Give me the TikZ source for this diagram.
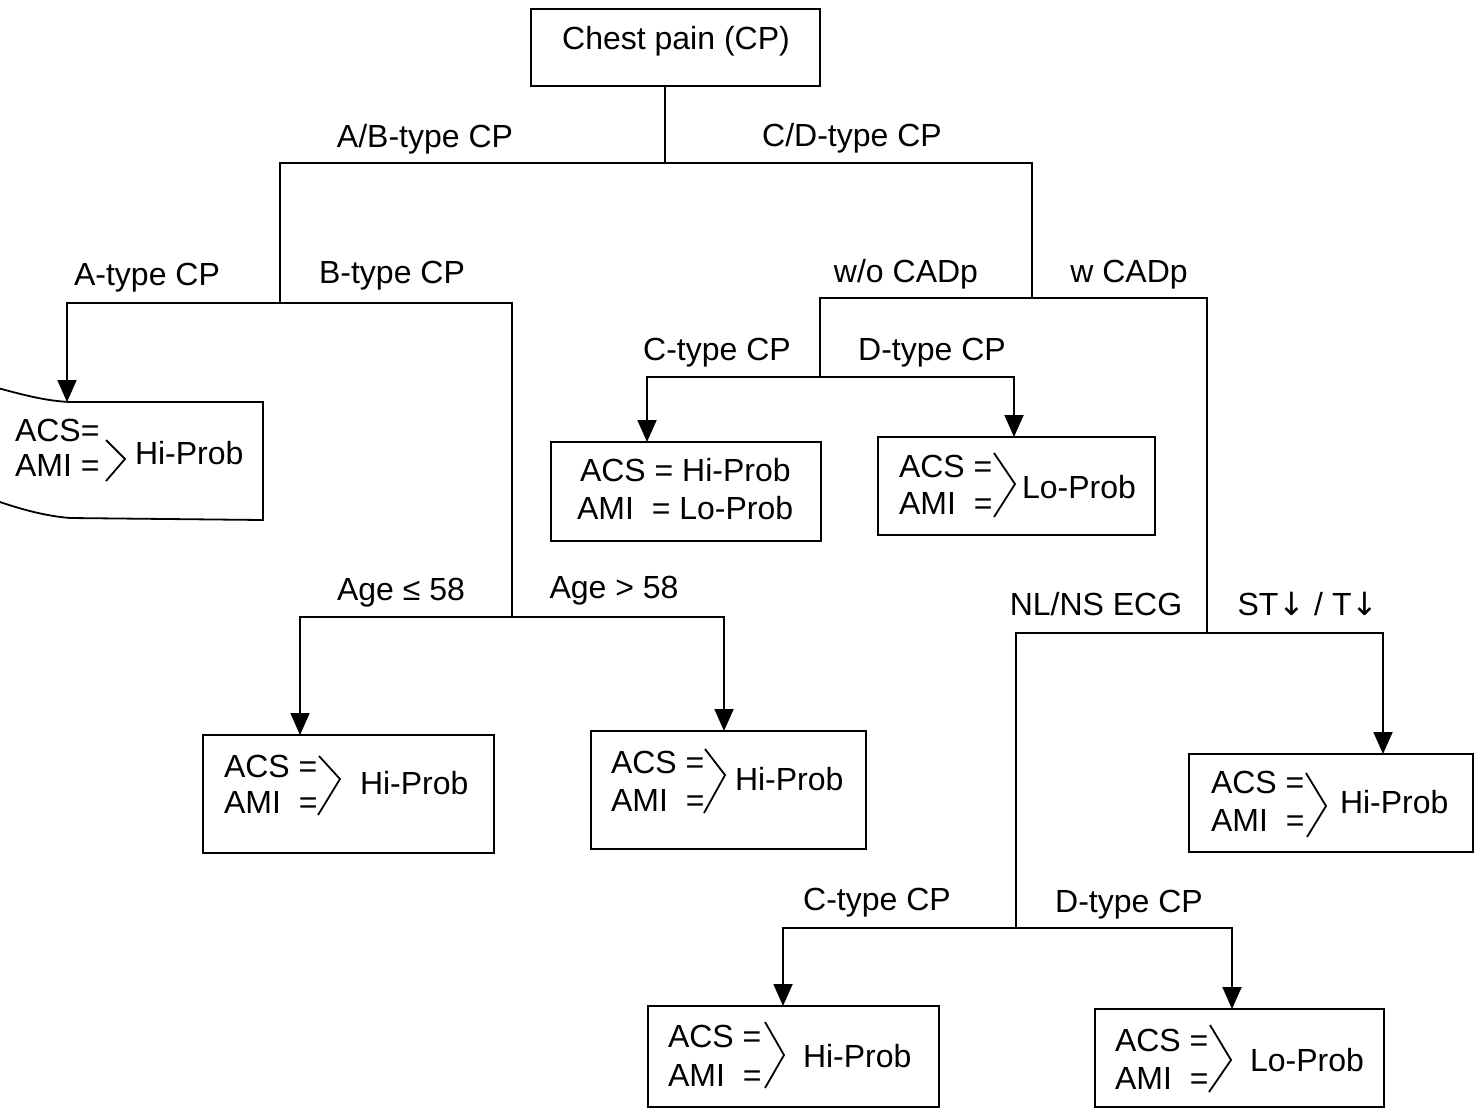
\documentclass[tikz,border=0pt]{standalone}
\usepackage{fontspec}
\setmainfont{Liberation Sans}
\newfontfamily\arrowfont{DejaVu Sans}
\usetikzlibrary{arrows.meta}
\newcommand{\dnarrow}{{\arrowfont ↓}}
\begin{document}
\begin{tikzpicture}[x=1pt,y=-1pt,
  every node/.style={font=\fontsize{32}{38}\selectfont, inner sep=0pt, outer sep=0pt},
  wire/.style={line width=1.8pt},
  arr/.style={wire, -{Triangle[length=22pt,width=19pt]}},
  box/.style={draw, line width=1.8pt, rectangle},
  lbl/.style={anchor=base},
  txt/.style={anchor=west},
  brk/.style={line width=1.8pt, line join=miter}]
\useasboundingbox (0,0) rectangle (1479,1114);

% ---------- boxes ----------
\node[box, minimum width=289pt, minimum height=77pt] (root) at (675.5,47.5) {};
\node (rootText) at (676,41) {Chest pain (CP)};

\node[minimum width=263pt, minimum height=118pt] (leafA) at (131.5,461) {};
\node[box, minimum width=270pt, minimum height=99pt] (leafCw) at (686,491.5) {};
\node[box, minimum width=277pt, minimum height=98pt] (leafDw) at (1016.5,486) {};
\node[box, minimum width=291pt, minimum height=118pt] (leafYoung) at (348.5,794) {};
\node[box, minimum width=275pt, minimum height=118pt] (leafOld) at (728.5,790) {};
\node[box, minimum width=284pt, minimum height=98pt] (leafST) at (1331,803) {};
\node[box, minimum width=291pt, minimum height=101pt] (leafC2) at (793.5,1056.5) {};
\node[box, minimum width=289pt, minimum height=98pt] (leafD2) at (1239.5,1058) {};

% curled outline of the left leaf
\draw[wire] (-6,387) .. controls (20,394) and (45,401) .. (70,402) -- (leafA.north east)
  -- (leafA.south east) -- (70,518) .. controls (45,516) and (20,509) .. (-6,500);

% ---------- branch junctions ----------
\coordinate (j0) at (665,163);
\coordinate (hL) at (280,303);
\coordinate (hR) at (1032,298);
\coordinate (xA) at (67,303);
\coordinate (hB) at (512,617);
\coordinate (xY) at (300,617);
\coordinate (xO) at (724,617);
\coordinate (kW) at (820,377);
\coordinate (xCw) at (647,377);
\coordinate (xDw) at (1014,377);
\coordinate (kC) at (1207,633);
\coordinate (nN) at (1016,928);
\coordinate (xST) at (1383,633);
\coordinate (xC2) at (783,928);
\coordinate (xD2) at (1232,928);

% ---------- connectors ----------
\draw[wire] (root.south -| j0) -- (j0);
\draw[wire] (hL) |- (j0) -| (hR);
\draw[arr] (hL) -- (xA) -- (xA |- leafA.north);
\draw[wire] (hL) -| (hB);
\draw[arr] (hB) -- (xY) -- (xY |- leafYoung.north);
\draw[arr] (hB) -- (xO) -- (xO |- leafOld.north);
\draw[wire] (hR) -- (hR -| kW) -- (kW);
\draw[wire] (hR) -| (kC);
\draw[arr] (kW) -- (xCw) -- (xCw |- leafCw.north);
\draw[arr] (kW) -- (xDw) -- (xDw |- leafDw.north);
\draw[wire] (kC) -- (kC -| nN) -- (nN);
\draw[arr] (kC) -- (xST) -- (xST |- leafST.north);
\draw[arr] (nN) -- (xC2) -- (xC2 |- leafC2.north);
\draw[arr] (nN) -- (xD2) -- (xD2 |- leafD2.north);

% ---------- branch labels ----------
\node[lbl] (lAB) at (425,147) {A/B-type CP};
\node[lbl] (lCD) at (852,146) {C/D-type CP};
\node[lbl] (lA) at (147,285) {A-type CP};
\node[lbl] (lB) at (392,283) {B-type CP};
\node[lbl] (lwo) at (906,282) {w/o CADp};
\node[lbl] (lw) at (1129,282) {w CADp};
\node[lbl] (lC1) at (717,360) {C-type CP};
\node[lbl] (lD1) at (932,360) {D-type CP};
\node[lbl] (lAy) at (401,600) {Age ≤ 58};
\node[lbl] (lAo) at (614,598) {Age > 58};
\node[lbl] (lNL) at (1096,615) {NL/NS ECG};
\node[lbl] (lST) at (1308,615) {ST\dnarrow{} / T\dnarrow};
\node[lbl] (lC2) at (877,910) {C-type CP};
\node[lbl] (lD2) at (1129,912) {D-type CP};

% ---------- leaf contents ----------
% left leaf
\node[txt] (aAcs) at (15,430) {ACS=};
\node[txt] (aAmi) at (15,465) {AMI =};
\draw[brk] (106,440) -- (125,459) -- (106,481);
\node[txt] (aRes) at (135,453) {Hi-Prob};

% C-type without CADp
\node[txt] (cwAcs) at (580,470) {ACS = Hi-Prob};
\node[txt] (cwAmi) at (577,508) {AMI\hspace{9pt} = Lo-Prob};

% D-type without CADp
\node[txt] (dwAcs) at (899,466) {ACS =};
\node[txt] (dwAmi) at (899,503) {AMI\hspace{9pt} =};
\draw[brk] (994,453) -- (1015,484) -- (994,517);
\node[txt] (dwRes) at (1022,487) {Lo-Prob};

% age up to 58
\node[txt] (yAcs) at (224,766) {ACS =};
\node[txt] (yAmi) at (224,802) {AMI\hspace{9pt} =};
\draw[brk] (319,756) -- (340,779) -- (318,815);
\node[txt] (yRes) at (360,783) {Hi-Prob};

% age over 58
\node[txt] (oAcs) at (611,762) {ACS =};
\node[txt] (oAmi) at (611,800) {AMI\hspace{9pt} =};
\draw[brk] (705,749) -- (725,775) -- (704,813);
\node[txt] (oRes) at (735,779) {Hi-Prob};

% ST / T depression
\node[txt] (sAcs) at (1211,782) {ACS =};
\node[txt] (sAmi) at (1211,820) {AMI\hspace{9pt} =};
\draw[brk] (1306,773) -- (1326,806) -- (1307,837);
\node[txt] (sRes) at (1340,802) {Hi-Prob};

% C-type with normal ECG
\node[txt] (c2Acs) at (668,1036) {ACS =};
\node[txt] (c2Ami) at (668,1075) {AMI\hspace{9pt} =};
\draw[brk] (765,1022) -- (784,1055) -- (765,1088);
\node[txt] (c2Res) at (803,1056) {Hi-Prob};

% D-type with normal ECG
\node[txt] (d2Acs) at (1115,1040) {ACS =};
\node[txt] (d2Ami) at (1115,1078) {AMI\hspace{9pt} =};
\draw[brk] (1210,1025) -- (1231,1060) -- (1209,1092);
\node[txt] (d2Res) at (1250,1060) {Lo-Prob};
\end{tikzpicture}
\end{document}
